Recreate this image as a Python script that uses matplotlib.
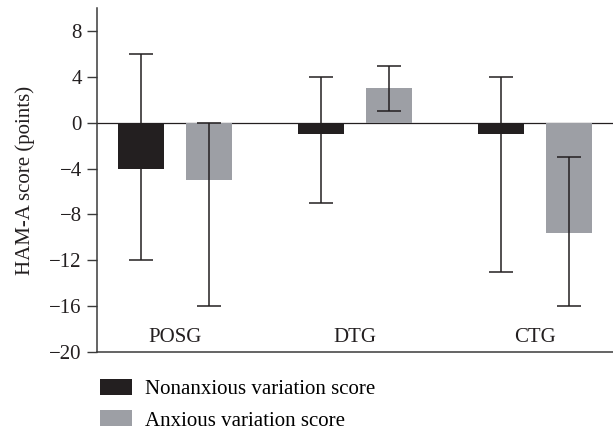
import matplotlib
matplotlib.use("Agg")
import matplotlib.pyplot as plt
import numpy as np
from matplotlib.patches import Patch

groups = ["POSG", "DTG", "CTG"]
nonanx = [-4, -1, -1]
nonanx_low = [-12, -7, -13]
nonanx_high = [6, 4, 4]
anx = [-5, 3, -9.6]
anx_low = [-16, 1, -16]
anx_high = [0, 4.9, -3]
yticks = [8, 4, 0, -4, -8, -12, -16, -20]
series_names = ["Nonanxious variation score", "Anxious variation score"]

plt.rcParams['font.family'] = ['Liberation Serif', 'DejaVu Serif']
black = '#231f20'
gray = '#9d9fa5'
fs = 15

fig = plt.figure(figsize=(6.13, 4.30), dpi=100)
ax = fig.add_axes([97/613, 1-352/430, 1-97/613, (352-8)/430])

x = np.arange(len(groups))
w = 0.256
off = 0.189
nv = np.array(nonanx); av = np.array(anx)
ax.bar(x - off, nv, w, color=black, zorder=2)
ax.bar(x + off, av, w, color=gray, zorder=2)
ax.errorbar(x - off, nv, yerr=[nv - np.array(nonanx_low), np.array(nonanx_high) - nv],
            fmt='none', ecolor=black, elinewidth=1.1, capsize=8.3, capthick=1.1, zorder=3)
ax.errorbar(x + off, av, yerr=[av - np.array(anx_low), np.array(anx_high) - av],
            fmt='none', ecolor=black, elinewidth=1.1, capsize=8.3, capthick=1.1, zorder=3)
ax.axhline(0, color=black, lw=0.9, zorder=1)

ax.set_xlim(-0.436, 2.433)
ax.set_ylim(-20, 10)
ax.set_yticks(yticks)
ax.set_yticklabels([str(t).replace('-', '\u2212') for t in yticks], fontsize=fs, color=black)
ax.set_xticks([])
ax.tick_params(axis='y', direction='out', length=7, width=1, color='#3a3a3a', pad=4)
for s in ['top', 'right']:
    ax.spines[s].set_visible(False)
for s in ['left', 'bottom']:
    ax.spines[s].set_color('#3a3a3a')
    ax.spines[s].set_linewidth(1.1)
for i, g in enumerate(groups):
    ax.text(x[i], -18.7, g, ha='center', va='center', fontsize=fs, color=black)
ax.set_ylabel("HAM-A score (points)", fontsize=fs, color=black, labelpad=10)

handles = [Patch(facecolor=black), Patch(facecolor=gray)]
fig.legend(handles, series_names, loc='upper left', bbox_to_anchor=(100/613, 1-379/430),
           frameon=False, fontsize=fs, handlelength=1.54, handleheight=0.77,
           handletextpad=0.62, labelspacing=0.55, borderaxespad=0, borderpad=0)

fig.savefig("out.png", dpi=100)
